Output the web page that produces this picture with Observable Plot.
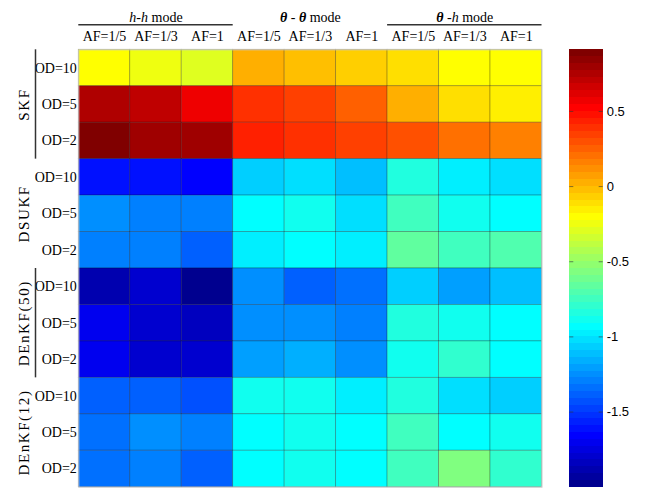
<!DOCTYPE html>
<html><head><meta charset="utf-8">
<script src="https://cdn.jsdelivr.net/npm/d3@7"></script>
<script src="https://cdn.jsdelivr.net/npm/@observablehq/plot@0.6"></script>
<style>
html,body{margin:0;padding:0;background:#fff;}
#chart{position:relative;width:645px;height:488px;}
#chart svg{position:absolute;left:0;top:0;overflow:visible;}
</style></head><body><div id="chart"></div>
<script>
// ---- data ----
const methods = ["SKF", "DSUKF", "DEnKF(50)", "DEnKF(12)"];
const ods = ["OD=10", "OD=5", "OD=2"];
const modes = ["h-h mode", "θ - θ mode", "θ -h mode"];
const afs = ["AF=1/5", "AF=1/3", "AF=1"];
const underlinedModes = [0, 2];
const barredMethods = [0, 2];
const colorbarTicks = [0.5, 0, -0.5, -1, -1.5];

// rows: OD=10, OD=5, OD=2 ; columns: h-h (AF 1/5,1/3,1), θ-θ (...), θ-h (...)
const skf = [
  [-0.204, -0.249, -0.295, 0.023, -0.022, -0.068, -0.113, -0.204, -0.19],
  [0.751, 0.706, 0.569, 0.387, 0.342, 0.251, 0.023, -0.113, -0.158],
  [0.91, 0.797, 0.79, 0.433, 0.387, 0.342, 0.296, 0.205, 0.16]
];
const dsukf = [
  [-1.614, -1.61, -1.659, -1.068, -1.023, -1.114, -0.841, -0.977, -1.02],
  [-1.25, -1.295, -1.30, -0.932, -0.886, -1.023, -0.75, -0.886, -0.932],
  [-1.295, -1.29, -1.386, -0.977, -0.932, -0.977, -0.659, -0.75, -0.705]
];
const denkf50 = [
  [-1.886, -1.795, -2.0, -1.25, -1.386, -1.341, -1.068, -1.205, -1.114],
  [-1.705, -1.795, -1.841, -1.25, -1.245, -1.295, -0.841, -0.886, -0.932],
  [-1.705, -1.80, -1.79, -1.205, -1.159, -1.25, -0.886, -0.795, -0.932]
];
const denkf12 = [
  [-1.386, -1.38, -1.432, -0.886, -0.88, -0.977, -0.841, -1.023, -1.068],
  [-1.341, -1.25, -1.295, -0.932, -0.886, -0.93, -0.75, -0.932, -0.886],
  [-1.341, -1.295, -1.386, -0.932, -0.886, -0.93, -0.75, -0.568, -0.795]
];
const values = [skf, dsukf, denkf50, denkf12];

// ---- MATLAB jet(64) colormap ----
function jetColor(t) {
  const m = 64;
  const i = Math.max(1, Math.min(m, Math.floor(t * m) + 1));
  const u = k => (k < 1 || k > 47) ? 0 : k <= 16 ? k / 16 : k <= 31 ? 1 : (48 - k) / 16;
  const r = i >= 25 ? u(i - 24) : 0;
  const g = (i >= 9 && i <= 55) ? u(i - 8) : 0;
  const b = i <= 39 ? u(i + 8) : 0;
  return `rgb(${Math.round(r * 255)},${Math.round(g * 255)},${Math.round(b * 255)})`;
}

const cells = [];
methods.forEach((m, mi) => ods.forEach((od, oi) => values[mi][oi].forEach((v, c) =>
  cells.push({row: mi * 3 + oi, col: c, value: v, method: m, od, mode: modes[Math.floor(c / 3)], af: afs[c % 3]}))));
const vExtent = d3.extent(cells, d => d.value);
const colorOpts = {type: "linear", domain: vExtent, interpolate: jetColor};

const W = 645, H = 488, L = 78.3, R = 541.5, T = 49.3, B = 486.7;
const serif = '"Liberation Serif", "Times New Roman", serif';

const main = Plot.plot({
  width: W, height: H,
  marginLeft: L, marginRight: W - R, marginTop: T, marginBottom: H - B,
  style: {fontFamily: serif, fontSize: "14px", color: "#000", background: "transparent"},
  x: {domain: [0, 9], axis: null},
  y: {domain: [0, 12], reverse: true, axis: null},
  color: colorOpts,
  marks: [
    Plot.rect(cells, {x1: "col", x2: d => d.col + 1, y1: "row", y2: d => d.row + 1, fill: "value",
      stroke: "#000", strokeOpacity: 0.3, strokeWidth: 0.8}),
    Plot.frame({stroke: "#c8c8c8"}),
    Plot.axisX({anchor: "top", label: null, ticks: d3.range(9).map(i => i + 0.5), tickFormat: d => afs[Math.floor(d) % 3],
      tickSize: 0, tickPadding: 9}),
    Plot.axisY({anchor: "left", label: null, ticks: d3.range(12).map(i => i + 0.5), tickFormat: d => ods[Math.floor(d) % 3],
      tickSize: 0, tickPadding: 2}),
    Plot.text(modes, {x: (d, i) => i * 3 + 1.5, frameAnchor: "top", lineAnchor: "bottom", dy: 21 - T}),
    Plot.ruleY(underlinedModes, {x1: i => i * 3, x2: i => i * 3 + 3, y: () => 0, dy: 24.3 - T,
      stroke: "#333", strokeWidth: 1.5}),
    Plot.ruleX(barredMethods, {x: () => 0, y1: i => i * 3, y2: i => i * 3 + 3, dx: 35 - L,
      stroke: "#333", strokeWidth: 1.5}),
    Plot.text(methods, {y: (d, i) => i * 3 + 1.5, frameAnchor: "left", rotate: -90, textAnchor: "middle",
      lineAnchor: "bottom", dx: 28 - L, fontSize: 15})
  ]
});

// rich text for mode labels (italic variables), spacing for method labels
d3.select(main).selectAll("text").each(function () {
  const s = this.textContent;
  if (modes.includes(s)) {
    while (this.firstChild) this.removeChild(this.firstChild);
    s.split(/([θh])/).filter(p => p !== "").forEach(p => {
      const ts = document.createElementNS("http://www.w3.org/2000/svg", "tspan");
      ts.textContent = p;
      if (p === "θ" || p === "h") ts.setAttribute("font-style", "italic");
      if (p === "θ") ts.setAttribute("font-weight", "bold");
      this.appendChild(ts);
    });
  } else if (methods.includes(s)) {
    this.setAttribute("letter-spacing", "1.6");
  }
});

// ---- colorbar ----
const cbL = 569.3, cbR = 602.7;
const nLevels = 64;
const step = (vExtent[1] - vExtent[0]) / nLevels;
const levels = d3.range(nLevels).map(k => ({lo: vExtent[0] + k * step, hi: vExtent[0] + (k + 1) * step}));
const cb = Plot.plot({
  width: W, height: H,
  marginLeft: cbL, marginRight: W - cbR, marginTop: T, marginBottom: H - B,
  style: {fontFamily: '"Liberation Sans", Arial, sans-serif', fontSize: "13px", color: "#000", background: "transparent"},
  x: {domain: [0, 1], axis: null},
  y: {domain: vExtent, axis: null},
  color: colorOpts,
  marks: [
    Plot.rect(levels, {x1: 0, x2: 1, y1: "lo", y2: "hi", fill: d => (d.lo + d.hi) / 2, shapeRendering: "crispEdges"}),
    Plot.ruleY(colorbarTicks, {x1: 0.88, x2: 1, stroke: "#333", strokeOpacity: 0.6}),
    Plot.ruleY(colorbarTicks, {x1: 0, x2: 0.12, stroke: "#333", strokeOpacity: 0.6}),
    Plot.axisY({anchor: "right", label: null, ticks: colorbarTicks, tickFormat: d => String(d), tickSize: 0, tickPadding: 3.5})
  ]
});

const root = document.getElementById("chart");
root.appendChild(main);
root.appendChild(cb);
</script>
</body></html>
